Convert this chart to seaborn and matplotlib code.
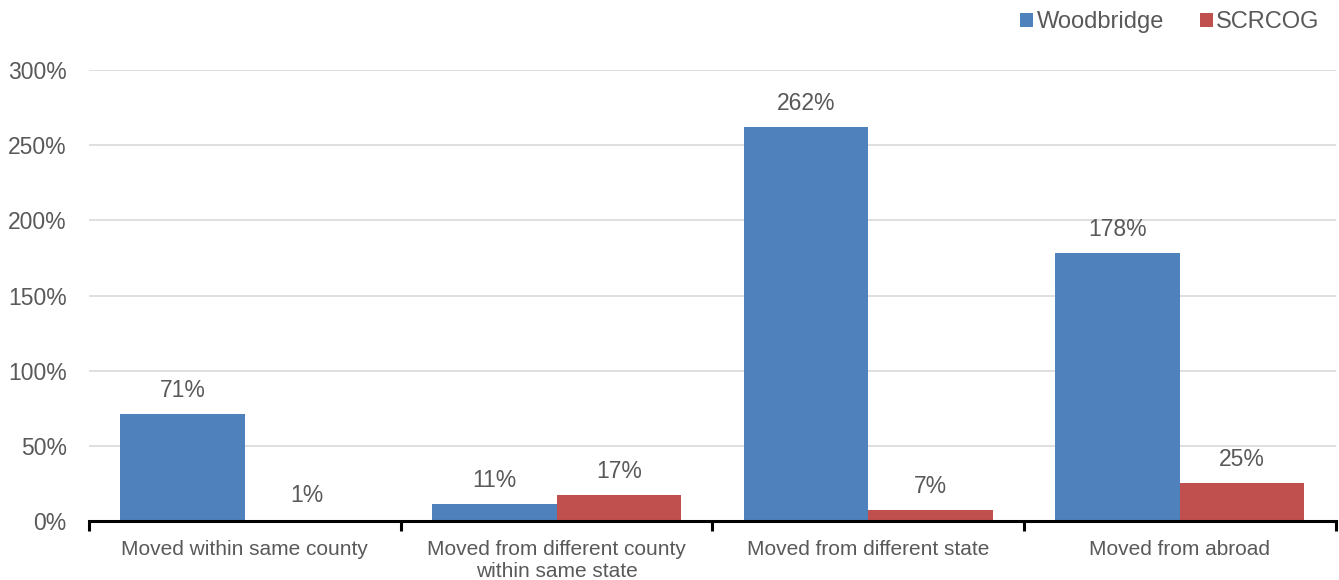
import matplotlib
matplotlib.use("Agg")
import matplotlib.pyplot as plt
import seaborn as sns
import pandas as pd
import numpy as np
from matplotlib.ticker import FixedLocator, FuncFormatter

categories = [
    "Moved within same county",
    "Moved from different county\nwithin same state",
    "Moved from different state",
    "Moved from abroad",
]
woodbridge = [71, 11, 262, 178]
scrcog = [1, 17, 7, 25]
series_names = ["Woodbridge", "SCRCOG"]
y_ticks = [0, 50, 100, 150, 200, 250, 300]

df = pd.DataFrame({
    "category": categories * 2,
    "series": [series_names[0]] * 4 + [series_names[1]] * 4,
    "value": woodbridge + scrcog,
})

sns.set_theme(style="white")
plt.rcParams["font.family"] = ["Liberation Sans", "DejaVu Sans"]
text_color = "#595959"

fig = plt.figure(figsize=(13.39, 5.8), dpi=100)
ax = fig.add_axes([0.0665, 0.1017, 0.931, 0.7776])

palette = {"Woodbridge": "#4F81BD", "SCRCOG": "#C0504D"}
sns.barplot(data=df, x="category", y="value", hue="series", palette=palette,
            width=0.8, saturation=1, linewidth=0, ax=ax, order=categories,
            hue_order=series_names)

ax.set_xlim(-0.5, len(categories) - 0.5)
ax.set_ylim(0, 300)
ax.set_yticks(y_ticks)
ax.yaxis.set_major_formatter(FuncFormatter(lambda v, p: f"{int(v)}%"))
ax.grid(axis="y", color="#D9D9D9", linewidth=1.2)
ax.set_axisbelow(True)

for s in ["left", "right", "top"]:
    ax.spines[s].set_visible(False)
ax.spines["bottom"].set_color("black")
ax.spines["bottom"].set_linewidth(2.2)
ax.spines["bottom"].set_zorder(5)

# category separators drawn as short downward ticks on the baseline
ax.xaxis.set_minor_locator(FixedLocator(np.arange(-0.5, len(categories), 1.0)))
ax.tick_params(axis="x", which="minor", bottom=True, length=7, width=2.2,
               color="black", direction="out")
ax.tick_params(axis="x", which="major", bottom=True, length=0, pad=14,
               labelsize=15, labelcolor=text_color)
ax.tick_params(axis="y", length=0, pad=16, labelsize=16.5, labelcolor=text_color)
ax.set_xlabel("")
ax.set_ylabel("")

for container in ax.containers:
    ax.bar_label(container, labels=[f"{int(v)}%" for v in container.datavalues],
                 padding=9, fontsize=16.5, color=text_color)

leg = ax.legend(loc="center right", bbox_to_anchor=(0.987, 1.106), ncol=2, frameon=False,
                fontsize=17, handlelength=0.55, handleheight=0.55, handletextpad=0.15,
                columnspacing=1.5, borderaxespad=0, borderpad=0)
for t in leg.get_texts():
    t.set_color(text_color)

fig.savefig("out.png", dpi=100)
